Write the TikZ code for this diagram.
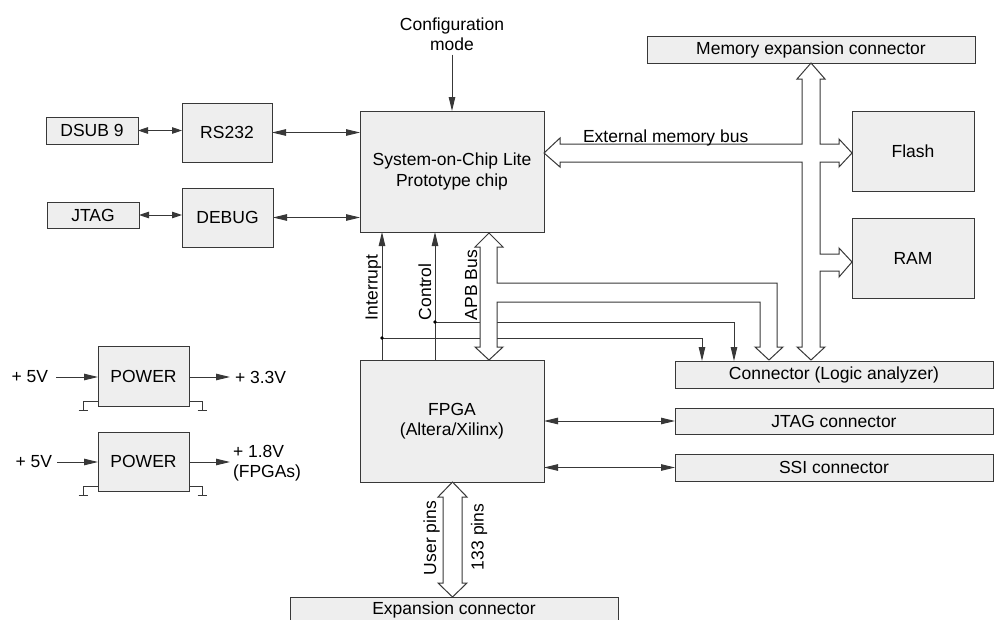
\documentclass[tikz,border=0pt]{standalone}
\usepackage{fontspec}
\setmainfont{Liberation Sans}
\usetikzlibrary{arrows.meta}
\definecolor{boxfill}{HTML}{EEEEEE}
\definecolor{linec}{HTML}{383838}
\begin{document}
\begin{tikzpicture}[x=1pt,y=-1pt,
 font=\fontsize{17.5}{20.5}\selectfont,
 box/.style={rectangle, draw=linec, fill=boxfill, line width=1pt, inner sep=0pt, outer sep=0pt, align=center},
 lbl/.style={inner sep=0pt, outer sep=0pt, align=center},
 sig/.style={draw=linec, line width=1pt},
 arr/.style={sig, -{Triangle[length=14pt,width=6.5pt]}},
 darr/.style={sig, {Triangle[length=14pt,width=6.5pt]}-{Triangle[length=14pt,width=6.5pt]}},
 sarr/.style={sig, {Triangle[length=10pt,width=6.5pt]}-{Triangle[length=10pt,width=6.5pt]}},
 bus/.style={draw=linec, fill=white, line width=1pt, line join=miter},
 gnd/.style={draw=linec, line width=1pt}
]
\useasboundingbox (0,0) rectangle (994,619);
\clip (0,0) rectangle (994,619);

% ---- boxes ----
\node[box, minimum width=328pt, minimum height=27pt] (memexp) at (811,49.5) {Memory expansion connector};
\node[box, minimum width=92pt, minimum height=27pt] (dsub) at (92,130.5) {DSUB 9};
\node[box, minimum width=90pt, minimum height=59pt] (rs232) at (227,132.5) {RS232};
\node[box, minimum width=92pt, minimum height=26pt] (jtag) at (93,215) {JTAG};
\node[box, minimum width=91pt, minimum height=59pt] (debug) at (227.5,217.5) {DEBUG};
\node[box, minimum width=184pt, minimum height=121pt] (soc) at (452,171.5) {System-on-Chip Lite\\Prototype chip};
\node[box, minimum width=122pt, minimum height=80pt] (flash) at (913,151) {Flash};
\node[box, minimum width=122pt, minimum height=80pt] (ram) at (913,258) {RAM};
\node[box, minimum width=184pt, minimum height=122pt] (fpga) at (452,421) {FPGA\\(Altera/Xilinx)};
\node[box, minimum width=318pt, minimum height=27pt] (logic) at (834,374.5) {Connector (Logic analyzer)};
\node[box, minimum width=318pt, minimum height=26pt] (jtagc) at (834,421) {JTAG connector};
\node[box, minimum width=318pt, minimum height=27pt] (ssi) at (834,467.5) {SSI connector};
\node[box, minimum width=328pt, minimum height=33pt] (exp) at (454,613.5) {};
\node[lbl] (exptext) at (454,610) {Expansion connector};
\node[box, minimum width=91pt, minimum height=60pt] (pow1) at (143.5,376) {POWER};
\node[box, minimum width=91pt, minimum height=59pt] (pow2) at (143.5,461.5) {POWER};

% ---- left side links ----
\draw[sarr] (dsub.east) -- (rs232.west |- dsub.east);
\draw[darr] (rs232.east) -- (soc.west |- rs232.east);
\draw[sarr] (jtag.east) -- (debug.west |- jtag.east);
\draw[darr] (debug.east) -- (soc.west |- debug.east);

% ---- configuration mode ----
\node[lbl] (cfg) at (452,34) {Configuration\\mode};
\draw[arr] ([yshift=-4pt]cfg.south) -- (soc.north);

% ---- interrupt / control ----
\coordinate (intdot) at (382,338);
\coordinate (ctldot) at (435,322);
\coordinate (la1) at (702,361);
\coordinate (la2) at (734,361);
\draw[arr] (fpga.north -| intdot) -- (soc.south -| intdot);
\draw[arr] (fpga.north -| ctldot) -- (soc.south -| ctldot);
\draw[arr] (intdot) -| (la1);
\draw[arr] (ctldot) -| (la2);
\fill[black] (intdot) circle (1.8pt);
\fill[black] (ctldot) circle (1.8pt);
\node[lbl, rotate=90, anchor=base west] (lint) at (377.5,320) {Interrupt};
\node[lbl, rotate=90, anchor=base west] (lctl) at (431,320) {Control};

% ---- APB bus ----
\draw[bus] (489,233) -- (503,247) -- (497,247) -- (497,283) -- (777,283) -- (777,347)
  -- (783,347) -- (769,360) -- (755,347) -- (760,347) -- (760,302) -- (497,302)
  -- (497,347) -- (503,347) -- (489,360) -- (475,347) -- (480,347) -- (480,247)
  -- (475,247) -- cycle;
\node[lbl, rotate=90, anchor=base west] (lapb) at (477,320) {APB Bus};

% ---- memory bus ----
\draw[bus] (544,153) -- (560,138) -- (560,144) -- (802,144) -- (802,79) -- (797,79)
  -- (811,63) -- (825,79) -- (820,79) -- (820,144) -- (839,144) -- (839,139)
  -- (852,153) -- (839,167) -- (839,162) -- (820,162) -- (820,254) -- (839,254)
  -- (839,248) -- (852,262) -- (839,277) -- (839,271) -- (820,271) -- (820,347)
  -- (825,347) -- (811,360) -- (797,347) -- (802,347) -- (802,162) -- (560,162)
  -- (560,167) -- cycle;
\node[lbl, anchor=base west] (lmem) at (583,142) {External memory bus};

% ---- FPGA links ----
\draw[darr] (fpga.east |- jtagc.west) -- (jtagc.west);
\draw[darr] (fpga.east |- ssi.west) -- (ssi.west);

% ---- user pins bus ----
\draw[bus] (452.5,482) -- (467,497) -- (462,497) -- (462,583) -- (467,583) -- (452.5,597)
  -- (438,583) -- (443,583) -- (443,497) -- (438,497) -- cycle;
\node[lbl, rotate=90, anchor=base west] (luser) at (436,575) {User pins};
\node[lbl, rotate=90, anchor=base west] (lpins) at (483.5,570) {133 pins};

% ---- power ----
\node[lbl, anchor=east] (p1in) at (48,377) {+ 5V};
\node[lbl, anchor=west] (p1out) at (235,377) {+ 3.3V};
\draw[arr] ([xshift=8pt]p1in.east) -- (pow1.west |- p1in.east);
\draw[arr] (pow1.east |- p1out.west) -- ([xshift=-5pt]p1out.west);
\node[lbl, anchor=east] (p2in) at (52,462) {+ 5V};
\node[lbl, anchor=west, align=left] (p2out) at (233,463) {+ 1.8V\\(FPGAs)};
\draw[arr] ([xshift=5pt]p2in.east) -- (pow2.west |- p2in.east);
\draw[arr] (pow2.east |- 0,462) -- (230,462);

\draw[gnd] ([yshift=5pt]pow1.south west) -- ++(-15,0) -- ++(0,9) ++(-4.5,0) -- ++(9,0);
\draw[gnd] ([yshift=5pt]pow1.south east) -- ++(13,0) -- ++(0,9) ++(-4.5,0) -- ++(9,0);
\draw[gnd] ([yshift=5pt]pow2.south west) -- ++(-15,0) -- ++(0,9) ++(-4.5,0) -- ++(9,0);
\draw[gnd] ([yshift=5pt]pow2.south east) -- ++(13,0) -- ++(0,9) ++(-4.5,0) -- ++(9,0);
\end{tikzpicture}
\end{document}
